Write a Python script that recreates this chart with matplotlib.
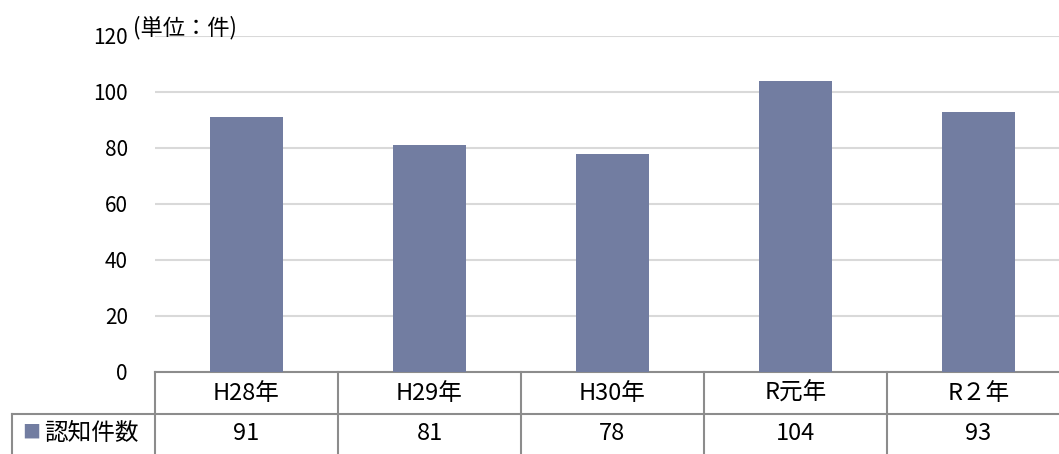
import matplotlib
matplotlib.use("Agg")
import matplotlib.pyplot as plt
from matplotlib.transforms import blended_transform_factory

plt.rcParams['font.family'] = ['Noto Sans CJK JP', 'DejaVu Sans']

categories = ["H28年", "H29年", "H30年", "R元年", "R２年"]
counts = [91, 81, 78, 104, 93]
series_name = "認知件数"
yticks = [0, 20, 40, 60, 80, 100, 120]
unit_label = "(単位：件)"

bar_color = "#727da1"
grid_color = "#d9d9d9"
line_color = "#8c8c8c"

W, H = 1059, 454
fig = plt.figure(figsize=(W / 100, H / 100), dpi=100)

# plot area in pixels (right edge runs past the image like the original)
left, right, top, bottom = 155, 1070, 36, 372
col_w = (right - left) / len(categories)
ax = fig.add_axes([left / W, 1 - bottom / H, (right - left) / W, (bottom - top) / H])


def px_to_x(p):
    return -0.5 + (p - left) / col_w


x = list(range(len(categories)))
ax.bar(x, counts, width=0.4, color=bar_color, zorder=3)
ax.set_xlim(-0.5, len(categories) - 0.5)
ax.set_ylim(0, 120)
ax.set_yticks(yticks)
ax.set_yticklabels([str(v) for v in yticks], fontsize=15)
ax.tick_params(axis="y", length=0, pad=19.5)
ax.set_xticks([])
ax.grid(axis="y", color=grid_color, linewidth=1.5, zorder=0)
for s in ax.spines.values():
    s.set_visible(False)

ax.text((133 - left) / (right - left), 0.99, unit_label, transform=ax.transAxes,
        fontsize=16, ha="left", va="bottom")

# data table under the chart
px = 1 / (bottom - top)
row1 = 0.0
row2 = -(414 - bottom) * px
row3 = -(458 - bottom) * px
trans = blended_transform_factory(ax.transData, ax.transAxes)
lw = 1.5
ax.plot([-0.5, len(categories) - 0.5], [row1, row1], transform=trans,
        color=line_color, lw=lw, clip_on=False)
label_left = px_to_x(12)
ax.plot([label_left, len(categories) - 0.5], [row2, row2], transform=trans,
        color=line_color, lw=lw, clip_on=False)
ax.plot([label_left, label_left], [row2, row3], transform=trans,
        color=line_color, lw=lw, clip_on=False)
for i in range(len(categories) + 1):
    ax.plot([i - 0.5, i - 0.5], [row1, row3], transform=trans,
            color=line_color, lw=lw, clip_on=False)

for i, (cat, val) in enumerate(zip(categories, counts)):
    ax.text(i, (row1 + row2) / 2, cat, transform=trans, ha="center",
            va="center", fontsize=17)
    ax.text(i, (row2 + row3) / 2 + 3 * px, str(val), transform=trans,
            ha="center", va="center", fontsize=17)

ax.text(px_to_x(22), (row2 + row3) / 2 + 3 * px, "■", transform=trans,
        ha="left", va="center", fontsize=13, color=bar_color)
ax.text(px_to_x(44), (row2 + row3) / 2 + 3 * px, series_name,
        transform=trans, ha="left", va="center", fontsize=17)

fig.savefig("out.png", dpi=100)
